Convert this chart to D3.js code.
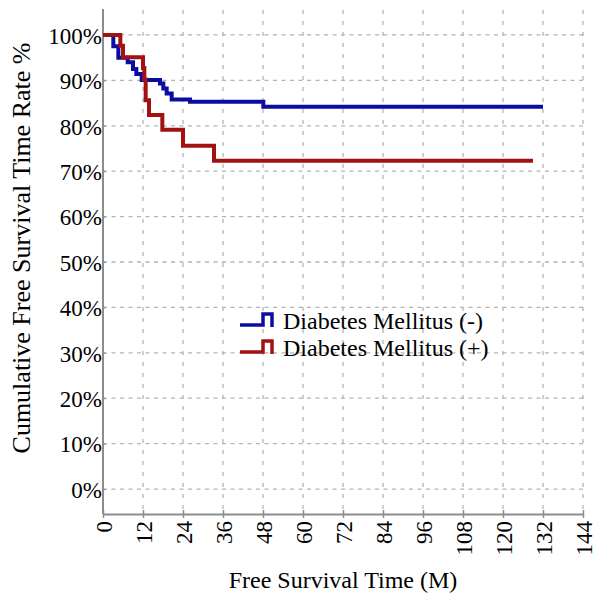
<!DOCTYPE html>
<html>
<head>
<meta charset="utf-8">
<script src="https://cdn.jsdelivr.net/npm/d3@7"></script>
<style>
  html, body { margin: 0; padding: 0; background: #fff; }
  svg { display: block; }
</style>
</head>
<body>
<svg id="chart" width="594" height="596"></svg>
<script>
// ---- data ----
const xTicks = [0, 12, 24, 36, 48, 60, 72, 84, 96, 108, 120, 132, 144];
const yTicks = [0, 10, 20, 30, 40, 50, 60, 70, 80, 90, 100];
const seriesNames = ["Diabetes Mellitus (-)", "Diabetes Mellitus (+)"];
const dmNegTimes = [0, 3.1, 4.6, 7.4, 9, 10, 11.6, 17.1, 18.1, 19.1, 20.6, 26.1, 48.1, 132];
const dmNegSurv  = [100, 97.5, 95, 94, 92.5, 91.4, 90.1, 89.3, 88.2, 87.1, 85.8, 85.3, 84.2, 84.2];
const dmPosTimes = [0, 5.2, 6, 12, 12.4, 12.8, 13.8, 17.8, 24, 33.3, 129];
const dmPosSurv  = [100, 97.6, 95.1, 92.7, 90.2, 85.6, 82.4, 79.1, 75.6, 72.3, 72.3];
const colors = ["#0c0ca0", "#a31212"];
const FONT = "'Liberation Serif', 'Times New Roman', Times, 'DejaVu Serif', serif";

// ---- layout ----
const svg = d3.select("#chart");
const margin = {left: 103, right: 11, top: 10, bottom: 82};
const W = 594, H = 596;
const x = d3.scaleLinear().domain([0, 144]).range([margin.left, W - margin.right]);
const y = d3.scaleLinear().domain([-5.5, 105.5]).range([H - margin.bottom, margin.top]);

// grid
const grid = svg.append("g");
grid.selectAll("line.h").data(yTicks).join("line")
  .attr("x1", x(0)).attr("x2", x(144))
  .attr("y1", d => y(d)).attr("y2", d => y(d))
  .attr("stroke", "#b4b4b4").attr("stroke-width", 1.3).attr("stroke-dasharray", "4,4.5");
grid.selectAll("line.v").data(xTicks.slice(1)).join("line")
  .attr("x1", d => x(d)).attr("x2", d => x(d))
  .attr("y1", margin.top).attr("y2", H - margin.bottom)
  .attr("stroke", "#b4b4b4").attr("stroke-width", 1.3).attr("stroke-dasharray", "4,7");

// axes
const xAxis = svg.append("g").attr("transform", `translate(0,${H - margin.bottom})`)
  .call(d3.axisBottom(x).tickValues(xTicks).tickSize(4).tickSizeOuter(0).tickFormat(d3.format("d")));
xAxis.select(".domain").attr("stroke", "#8c8c8c").attr("stroke-width", 2);
xAxis.selectAll(".tick line").attr("stroke", "#8c8c8c").attr("stroke-width", 1.5).attr("y1", -4);
xAxis.selectAll(".tick text")
  .style("font-family", FONT).style("font-size", "23px").attr("fill", "#000")
  .attr("transform", "rotate(-90)")
  .attr("text-anchor", "end")
  .attr("x", -7).attr("y", 0).attr("dy", "0.38em");

const yAxis = svg.append("g").attr("transform", `translate(${margin.left},0)`)
  .call(d3.axisLeft(y).tickValues(yTicks).tickSize(0).tickFormat(d => d + "%"));
yAxis.select(".domain").attr("stroke", "#8c8c8c").attr("stroke-width", 2)
  .attr("d", `M0,${margin.top - 1}V${H - margin.bottom}`);
yAxis.selectAll(".tick line").attr("stroke", "#8c8c8c").attr("x2", 3);
yAxis.selectAll(".tick text").style("font-family", FONT).style("font-size", "23px")
  .attr("fill", "#000").attr("x", -1).attr("dy", "0.36em");

// curves
const line = d3.line().x(d => x(d[0])).y(d => y(d[1])).curve(d3.curveStepAfter);
const series = [d3.zip(dmNegTimes, dmNegSurv), d3.zip(dmPosTimes, dmPosSurv)];
series.forEach((s, i) => {
  svg.append("path").datum(s).attr("d", line)
    .attr("fill", "none").attr("stroke", colors[i]).attr("stroke-width", 4)
    .attr("stroke-linejoin", "miter");
});

// legend
const legend = svg.append("g");
seriesNames.forEach((name, i) => {
  const by = 325 + i * 27;
  legend.append("path")
    .attr("d", `M240,${by}H263V${by - 11}H272V${by + 2}`)
    .attr("fill", "none").attr("stroke", colors[i]).attr("stroke-width", 3.5);
  legend.append("text").attr("x", 283).attr("y", by + 4)
    .style("font-family", FONT).style("font-size", "24px").attr("fill", "#000").text(name);
});

// axis titles
svg.append("text").attr("x", 343).attr("y", 588)
  .attr("text-anchor", "middle").style("font-family", FONT).style("font-size", "24px").attr("fill", "#000")
  .text("Free Survival Time (M)");
svg.append("text").attr("transform", "translate(30,248) rotate(-90)")
  .attr("text-anchor", "middle").style("font-family", FONT).style("font-size", "26px").attr("fill", "#000")
  .text("Cumulative Free Survival Time Rate %");
</script>
</body>
</html>
